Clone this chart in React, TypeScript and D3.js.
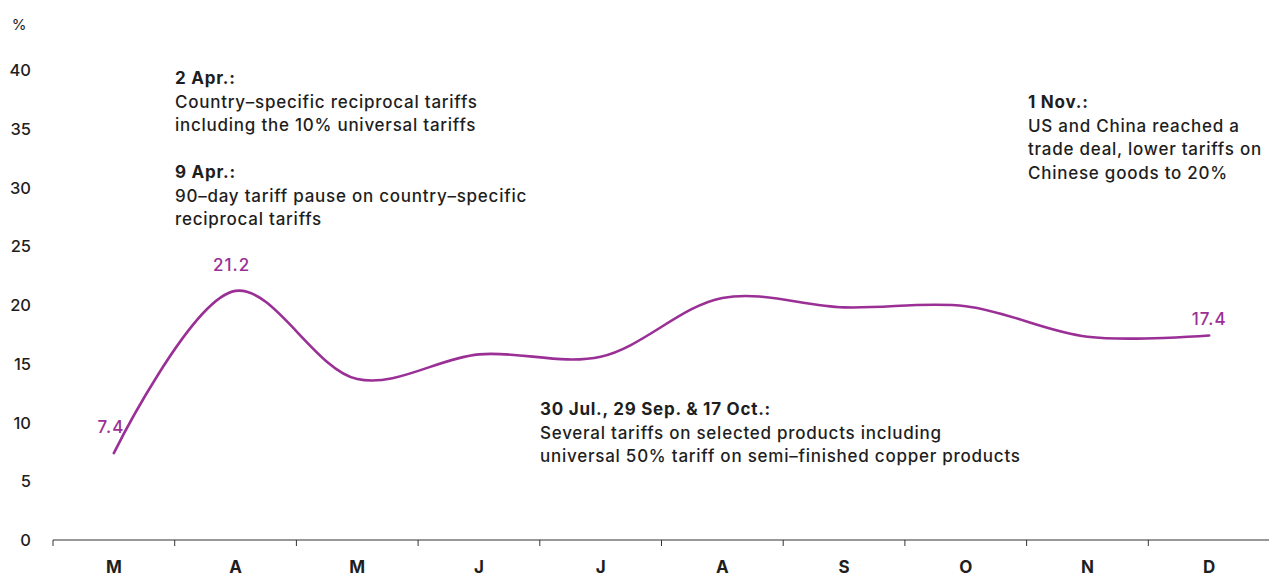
import React from "react";
import * as d3 from "d3";

const months = ["M", "A", "M", "J", "J", "A", "S", "O", "N", "D"];
const values = [7.4, 21.2, 13.7, 15.8, 15.6, 20.6, 19.8, 19.9, 17.3, 17.4];
const yTicks = [0, 5, 10, 15, 20, 25, 30, 35, 40];
const labelled = [
  { idx: 0, text: "7.4", dx: -3, dy: -26 },
  { idx: 1, text: "21.2", dx: -4, dy: -26 },
  { idx: 9, text: "17.4", dx: 0, dy: -17 },
];
const annotations = [
  { x: 175, y: 78, lines: [{ t: "2 Apr.:", b: true }, { t: "Country–specific reciprocal tariffs" }, { t: "including the 10% universal tariffs" }] },
  { x: 175, y: 172, lines: [{ t: "9 Apr.:", b: true }, { t: "90–day tariff pause on country–specific" }, { t: "reciprocal tariffs" }] },
  { x: 540, y: 409, lines: [{ t: "30 Jul., 29 Sep. & 17 Oct.:", b: true }, { t: "Several tariffs on selected products including" }, { t: "universal 50% tariff on semi–finished copper products" }] },
  { x: 1028, y: 102, lines: [{ t: "1 Nov.:", b: true }, { t: "US and China reached a" }, { t: "trade deal, lower tariffs on" }, { t: "Chinese goods to 20%" }] },
];

const W = 1269, H = 576;
const FONT = "Inter, 'Liberation Sans', Arial, sans-serif";
const PURPLE = "#9a2f96";
const INK = "#1e1e1e";

export default function App() {
  const x = d3.scaleBand<number>().domain(months.map((_, i) => i)).range([53, 1270]).padding(0);
  const y = d3.scaleLinear().domain([0, 40]).range([540, 70]);
  const cx = (i: number) => (x(i) as number) + x.bandwidth() / 2;
  const line = d3.line<number>().x((_, i) => cx(i)).y((d) => y(d)).curve(d3.curveCatmullRom.alpha(0.5));
  const path = line(values) || "";
  const tickXs = months.map((_, i) => x(i) as number);

  return (
    <div style={{ position: "absolute", left: 0, top: 0 }}>
      <svg width={W} height={H} style={{ display: "block", fontFamily: FONT }}>
        <rect width={W} height={H} fill="#fff" />
        <text x={19} y={24} fontSize={15} fill={INK} textAnchor="middle" dominantBaseline="central">%</text>
        {yTicks.map((t) => (
          <text key={t} x={31} y={y(t)} fontSize={16.5} fontWeight={500} fill={INK} textAnchor="end" dominantBaseline="central">{t}</text>
        ))}
        <line x1={53} x2={1269} y1={540} y2={540} stroke="#333" strokeWidth={1.2} />
        {tickXs.map((tx, i) => (
          <line key={i} x1={tx} x2={tx} y1={540} y2={546} stroke="#333" strokeWidth={1} />
        ))}
        {months.map((m, i) => (
          <text key={i} x={cx(i)} y={567} fontSize={17} fontWeight={700} fill={INK} textAnchor="middle" dominantBaseline="central">{m}</text>
        ))}
        <path d={path} fill="none" stroke={PURPLE} strokeWidth={2.6} strokeLinecap="round" />
        {labelled.map((l) => (
          <text key={l.idx} x={cx(l.idx) + l.dx} y={y(values[l.idx]) + l.dy} fontSize={17} letterSpacing={1} fontWeight={500} fill={PURPLE} textAnchor="middle" dominantBaseline="central">{l.text}</text>
        ))}
        {annotations.map((a, k) => (
          <g key={k}>
            {a.lines.map((ln, j) => (
              <text key={j} x={a.x} y={a.y + j * 23.5} fontSize={17} letterSpacing={0.75} fontWeight={ln.b ? 700 : 500} fill={INK} dominantBaseline="central">{ln.t}</text>
            ))}
          </g>
        ))}
      </svg>
    </div>
  );
}
